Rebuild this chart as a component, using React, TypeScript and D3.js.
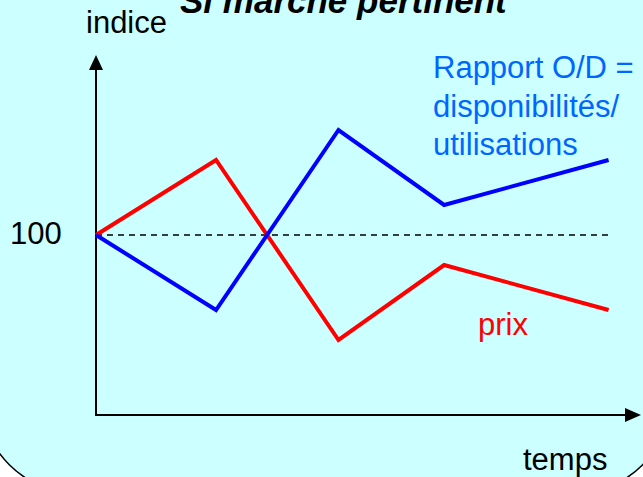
import * as d3 from 'd3'

// chart data
const temps = [0, 1, 2.02, 2.9, 4.27]
const prix = [100, 110, 86, 96, 90]
const rapportOD = [100, 90, 114, 104, 110]
const reference = 100
const labelRapport = ['Rapport O/D =', 'disponibilités/', 'utilisations']

const W = 643
const H = 477
const font = 'Liberation Sans, Arial, sans-serif'

const App = () => {
  const x = d3.scaleLinear().domain([0, 4.54]).range([96, 641])
  const y = d3.scaleLinear().domain([76, 124]).range([415, 55])

  const line = d3
    .line<number>()
    .x((_, i) => x(temps[i]))
    .y((d) => y(d))

  const x0 = x(0)
  const y0 = y(76)
  const xTip = x(4.54)
  const yTip = y(124)

  return (
    <svg
      width={W}
      height={H}
      style={{ position: 'absolute', left: 0, top: 0, background: '#fff' }}
    >
      {/* rounded panel */}
      <rect
        x={-20}
        y={-120}
        width={692}
        height={614}
        rx={100}
        ry={100}
        fill='#ccffff'
        stroke='#000'
        strokeWidth={1.5}
      />

      {/* title, cut by the top edge */}
      <text
        x={180}
        y={13}
        fontFamily={font}
        fontSize={35}
        fontWeight='bold'
        fontStyle='italic'
        fill='#000'
      >
        Si marché pertinent
      </text>

      {/* reference line */}
      <line
        x1={x0}
        x2={x(temps[temps.length - 1])}
        y1={y(reference)}
        y2={y(reference)}
        stroke='#000'
        strokeWidth={1.5}
        strokeDasharray='6,5'
      />

      {/* axes */}
      <path
        d={`M${x0},${yTip + 12}L${x0},${y0}L${xTip - 14},${y0}`}
        fill='none'
        stroke='#000'
        strokeWidth={2}
      />
      <path
        d={`M${x0},${yTip}L${x0 - 7},${yTip + 15}L${x0 + 7},${yTip + 15}Z`}
        fill='#000'
      />
      <path
        d={`M${xTip},${y0}L${xTip - 16},${y0 - 7}L${xTip - 16},${y0 + 7}Z`}
        fill='#000'
      />

      {/* series */}
      <path
        d={line(prix) || ''}
        fill='none'
        stroke='#ff0000'
        strokeWidth={4}
      />
      <path
        d={line(rapportOD) || ''}
        fill='none'
        stroke='#0000ff'
        strokeWidth={4}
      />

      {/* labels */}
      <g fontFamily={font} fontSize={31}>
        <text x={86} y={33} fill='#000'>
          indice
        </text>
        <text x={10} y={244} fill='#000'>
          {reference}
        </text>
        <text x={523} y={470} fill='#000'>
          temps
        </text>
        <text x={478} y={335} fill='#ff0000'>
          prix
        </text>
        {labelRapport.map((t, i) => (
          <text key={t} x={433} y={78 + i * 38.5} fill='#0066ff'>
            {t}
          </text>
        ))}
      </g>
    </svg>
  )
}

export default App
